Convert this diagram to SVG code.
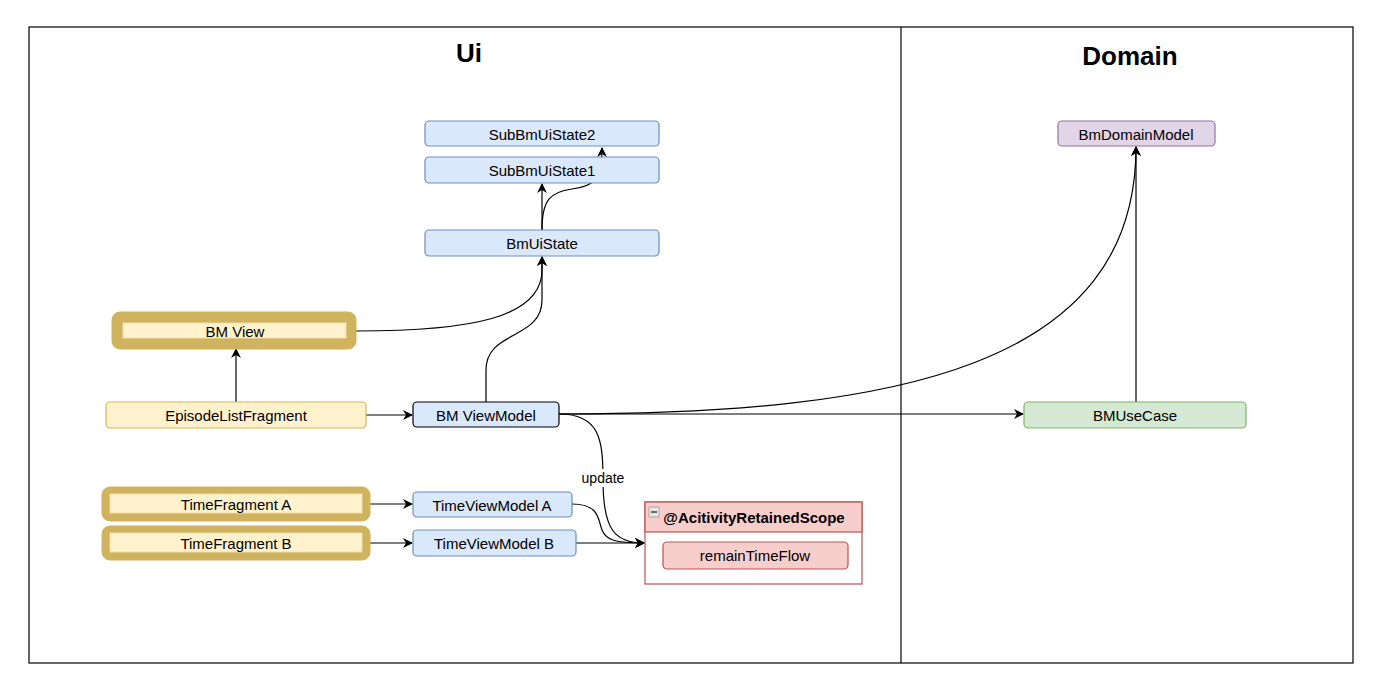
<svg xmlns="http://www.w3.org/2000/svg" width="1382" height="690" viewBox="0 0 1382 690">
  <defs>
    <marker id="arrow" viewBox="0 0 10 10" refX="9" refY="5" markerWidth="10" markerHeight="10" markerUnits="userSpaceOnUse" orient="auto">
      <path d="M0,0 L10,5 L0,10 L3,5 Z" fill="#000"/>
    </marker>
    <style>
      text { font-family: "Liberation Sans", Arial, Helvetica, sans-serif; fill: #000; }
      .lbl { font-size: 15px; text-anchor: middle; dominant-baseline: central; }
      .title { font-size: 26px; font-weight: bold; text-anchor: middle; dominant-baseline: central; }
      .blue { fill: #dae8fc; stroke: #6c8ebf; stroke-width: 1.2; }
      .yellow { fill: #fff2cc; stroke: #d6b656; stroke-width: 1.2; }
      .green { fill: #d5e8d4; stroke: #82b366; stroke-width: 1.2; }
      .purple { fill: #e1d5e7; stroke: #9673a6; stroke-width: 1.2; }
      .red { fill: #f8cecc; stroke: #b85450; stroke-width: 1.2; }
      .gold-outer { fill: #d0b35f; stroke: #d0b35f; stroke-width: 1; }
      .gold-inner { fill: #fff2cc; stroke: #f0dfa8; stroke-width: 1; }
      .edge { fill: none; stroke: #000; stroke-width: 1.2; marker-end: url(#arrow); }
    </style>
  </defs>

  <rect width="1382" height="690" fill="#fff"/>

  <!-- layer frame -->
  <g id="frame">
    <rect x="29" y="27" width="1324" height="636" fill="none" stroke="#000" stroke-width="1.2"/>
    <line x1="901" y1="27" x2="901" y2="663" stroke="#000" stroke-width="1.2"/>
    <text class="title" x="469" y="53">Ui</text>
    <text class="title" x="1130" y="56">Domain</text>
  </g>

  <!-- connectors -->
  <g id="connectors">
    <path class="edge" d="M542,230 L542,184"/>
    <path class="edge" d="M542,230 C542,200 550,192 572,189 C596,186 602,178 602,148"/>
    <path class="edge" d="M356,331 C470,331 542,318 542,270 L542,257"/>
    <path class="edge" d="M486,402 L486,370 C486,330 542,340 542,300 L542,257"/>
    <path class="edge" d="M236,402 L236,349"/>
    <path class="edge" d="M366,415 L412,415"/>
    <path class="edge" d="M559,414 L1023,414"/>
    <path class="edge" d="M559,414 C900,414 1136,365 1136,147"/>
    <path class="edge" d="M1136,402 L1136,147"/>
    <path class="edge" d="M559,414 C600,414 603,440 603,480 C603,530 615,543 644,543"/>
    <path class="edge" d="M572,504 C600,504 598,520 602,530 C606,540 615,543 644,543"/>
    <path class="edge" d="M576,543 L644,543"/>
    <path class="edge" d="M370,504 L412,504"/>
    <path class="edge" d="M370,543 L412,543"/>
    <rect x="580" y="469" width="46" height="18" fill="#fff"/>
    <text x="603" y="478" font-size="14" text-anchor="middle" dominant-baseline="central">update</text>
  </g>

  <!-- nodes -->
  <g id="subBmUiState2">
    <rect class="blue" x="425" y="121" width="234" height="25" rx="4"/>
    <text class="lbl" x="542" y="134">SubBmUiState2</text>
  </g>
  <g id="subBmUiState1">
    <rect class="blue" x="425" y="157" width="234" height="26" rx="4"/>
    <text class="lbl" x="542" y="170">SubBmUiState1</text>
  </g>
  <g id="bmUiState">
    <rect class="blue" x="425" y="230" width="234" height="26" rx="4"/>
    <text class="lbl" x="542" y="243">BmUiState</text>
  </g>
  <g id="bmView">
    <rect class="gold-outer" x="112" y="312" width="244" height="37" rx="8"/>
    <rect class="gold-inner" x="123" y="323" width="223" height="15"/>
    <text class="lbl" x="235" y="331">BM View</text>
  </g>
  <g id="episodeListFragment">
    <rect class="yellow" x="106" y="402" width="260" height="26" rx="4"/>
    <text class="lbl" x="236" y="415">EpisodeListFragment</text>
  </g>
  <g id="bmViewModel">
    <rect x="413" y="402" width="146" height="25" rx="4" fill="#dae8fc" stroke="#000" stroke-width="1.2"/>
    <text class="lbl" x="486" y="415">BM ViewModel</text>
  </g>
  <g id="timeFragmentA">
    <rect class="gold-outer" x="102" y="487" width="268" height="34" rx="8"/>
    <rect class="gold-inner" x="110" y="494" width="252" height="19"/>
    <text class="lbl" x="236" y="504">TimeFragment A</text>
  </g>
  <g id="timeFragmentB">
    <rect class="gold-outer" x="102" y="526" width="268" height="34" rx="8"/>
    <rect class="gold-inner" x="110" y="533" width="252" height="19"/>
    <text class="lbl" x="236" y="543">TimeFragment B</text>
  </g>
  <g id="timeViewModelA">
    <rect class="blue" x="413" y="492" width="159" height="25" rx="4"/>
    <text class="lbl" x="492" y="505">TimeViewModel A</text>
  </g>
  <g id="timeViewModelB">
    <rect class="blue" x="413" y="530" width="163" height="26" rx="4"/>
    <text class="lbl" x="494" y="543">TimeViewModel B</text>
  </g>
  <g id="activityRetainedScope">
    <rect x="645" y="502" width="217" height="82" fill="#fff" stroke="#b85450" stroke-width="1.2"/>
    <rect x="645" y="502" width="217" height="30" fill="#f8cecc" stroke="#b85450" stroke-width="1.2"/>
    <rect x="649" y="507" width="10" height="10" fill="#e6e6e6" stroke="#999" stroke-width="0.8"/>
    <line x1="651" y1="512" x2="657" y2="512" stroke="#333" stroke-width="1.4"/>
    <text x="754" y="517" font-size="15" font-weight="bold" text-anchor="middle" dominant-baseline="central">@AcitivityRetainedScope</text>
  </g>
  <g id="remainTimeFlow">
    <rect class="red" x="663" y="542" width="185" height="27" rx="4"/>
    <text class="lbl" x="755" y="555">remainTimeFlow</text>
  </g>
  <g id="bmDomainModel">
    <rect class="purple" x="1058" y="121" width="157" height="25" rx="4"/>
    <text class="lbl" x="1136" y="134">BmDomainModel</text>
  </g>
  <g id="bmUseCase">
    <rect class="green" x="1024" y="402" width="222" height="26" rx="4"/>
    <text class="lbl" x="1135" y="415">BMUseCase</text>
  </g>
</svg>
